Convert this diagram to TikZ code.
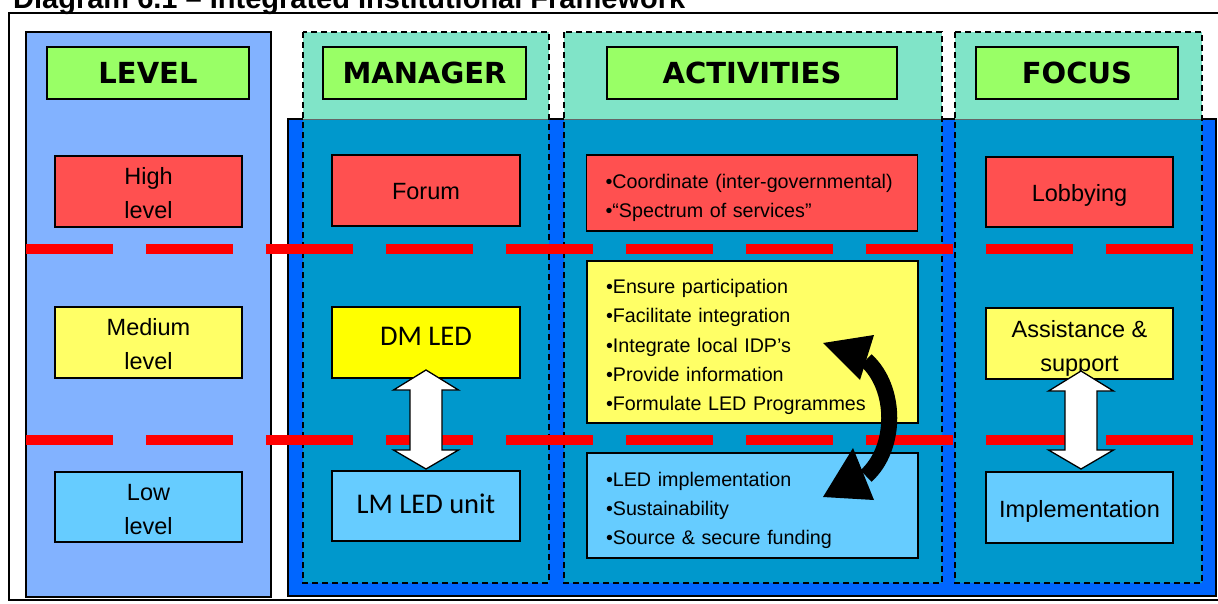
\documentclass[tikz,border=0pt]{standalone}
\usepackage{fontspec}
\setmainfont{Liberation Sans}
\newfontfamily\hdrfont{DejaVu Sans}
\newfontfamily\califont{Carlito}
\usetikzlibrary{calc}

\definecolor{lvlblue}{RGB}{130,178,255}
\definecolor{tealtop}{RGB}{128,228,200}
\definecolor{bigblue}{RGB}{0,102,255}
\definecolor{colblue}{RGB}{0,152,204}
\definecolor{hdrgreen}{RGB}{153,255,102}
\definecolor{boxred}{RGB}{255,80,80}
\definecolor{boxyellow}{RGB}{255,255,102}
\definecolor{brightyellow}{RGB}{255,255,0}
\definecolor{boxltblue}{RGB}{102,204,255}
\definecolor{dashred}{RGB}{255,0,0}

\newcommand\vdblarrow[3]{%
  \draw[dbl] (#1,#2) -- ({#1+32.5},{#2+20}) -- ({#1+16},{#2+20}) -- ({#1+16},{#3-19})
     -- ({#1+32.5},{#3-19}) -- (#1,#3) -- ({#1-32.5},{#3-19}) -- ({#1-16},{#3-19})
     -- ({#1-16},{#2+20}) -- ({#1-32.5},{#2+20}) -- cycle;}
% move text down / up by #1 inside its node, keeping the total extent
\newcommand\downtext[2]{\raisebox{0pt}[\dimexpr\height+#1\relax][\dimexpr\depth-#1\relax]{#2}}
\newcommand\uptext[2]{\raisebox{0pt}[\dimexpr\height-#1\relax][\dimexpr\depth+#1\relax]{#2}}
\newcommand\ctext[2]{\downtext{#1}{\begin{tabular}{@{}c@{}}#2\end{tabular}}}
\newcommand\ltext[2]{\downtext{#1}{\parbox{293pt}{#2}}}

\begin{document}
\begin{tikzpicture}[x=1pt,y=-1pt,
  box/.style={draw=black, line width=1.3pt, inner sep=0pt, align=center, text=black},
  hdr/.style={box, fill=hdrgreen, minimum height=52pt, font=\hdrfont\bfseries\fontsize{29}{29}\selectfont},
  lvl/.style={box, minimum width=187pt, minimum height=71pt, font=\fontsize{23.5}{34}\selectfont},
  cali/.style={box, minimum width=188pt, minimum height=71pt, font=\califont\fontsize{28.5}{30}\selectfont},
  act/.style={box, inner xsep=19pt, inner ysep=0pt, align=left, text width=293pt, font=\fontsize{19.7}{29.3}\selectfont},
  colframe/.style={draw=black, line width=1.4pt, dash pattern=on 6pt off 4pt},
  levelsep/.style={draw=dashred, line width=10pt, dash pattern=on 87pt off 33pt},
  dbl/.style={fill=white, draw=black, line width=1.3pt, line join=miter},
]
\useasboundingbox (0,0) rectangle (1218,603);
\fill[white] (0,0) rectangle (1218,603);

% title
\node[anchor=base west, inner sep=0pt, font=\bfseries\fontsize{29}{29}\selectfont] (title) at (13,8.5) {Diagram 6.1 – Integrated Institutional Framework};

% outer frame
\draw[line width=1.6pt] (9,13) rectangle (1240,600);

% level column
\draw[fill=lvlblue, line width=1.3pt] (26,32) rectangle (271,597);

% big blue area
\draw[fill=bigblue, line width=1.3pt] (288,119) rectangle (1216,596);

% dashed columns
\foreach \xa/\xb in {303/549, 564/942, 955/1202} {
  \fill[tealtop] (\xa,32) rectangle (\xb,119);
  \fill[colblue] (\xa,119) rectangle (\xb,583);
  \draw[black!60, line width=0.8pt] (\xa,119) -- (\xb,119);
  \draw[colframe] (\xa,32) rectangle (\xb,583);
}

% level separators
\draw[levelsep] (26,249) -- (1193,249);
\draw[levelsep] (26,440) -- (1193,440);

% headers
\node[hdr, minimum width=202pt] (hlevel) at (148,73) {LEVEL};
\node[hdr, minimum width=203pt] (hmanager) at (424.5,73) {MANAGER};
\node[hdr, minimum width=290pt] (hactivities) at (752,73) {ACTIVITIES};
\node[hdr, minimum width=202pt] (hfocus) at (1077,73) {FOCUS};

% level boxes
\node[lvl, fill=boxred] (high) at (148.5,191.5) {\ctext{3.5pt}{High\\level}};
\node[lvl, fill=boxyellow] (medium) at (148.5,342.5) {\ctext{3.5pt}{Medium\\level}};
\node[lvl, fill=boxltblue, minimum height=70pt] (low) at (148.5,507) {\ctext{3.5pt}{Low\\level}};

% manager boxes
\node[lvl, fill=boxred, minimum width=188pt] (forum) at (426,190.5) {\downtext{2.5pt}{Forum}};
\node[cali, fill=brightyellow] (dmled) at (426,342.5) {\uptext{6pt}{DM LED}};
\node[cali, fill=boxltblue, minimum height=70pt] (lmled) at (426,506) {\uptext{2.5pt}{LM LED unit}};

% activities boxes
\node[act, fill=boxred, minimum height=76pt] (acthigh) at (752,193) {\ltext{5pt}{•Coordinate (inter-governmental)\\•“Spectrum of services”}};
\node[act, fill=boxyellow, minimum height=162pt] (actmed) at (752.5,342) {\ltext{5pt}{•Ensure participation\\•Facilitate integration\\•Integrate local IDP’s\\•Provide information\\•Formulate LED Programmes}};
\node[act, fill=boxltblue, minimum height=105pt] (actlow) at (752.5,505.5) {\ltext{5pt}{•LED implementation\\•Sustainability\\•Source \& secure funding}};

% focus boxes
\node[lvl, fill=boxred, minimum height=70pt] (lobby) at (1079.5,192) {\downtext{3pt}{Lobbying}};
\node[lvl, fill=boxyellow] (assist) at (1079.5,343.5) {\ctext{4pt}{Assistance \&\\support}};
\node[lvl, fill=boxltblue] (impl) at (1079.5,507.5) {\downtext{4pt}{Implementation}};

% white double arrows
\vdblarrow{426}{370}{469}
\vdblarrow{1081}{371}{469}

% black curved double arrow
\draw[line width=16pt] (866,360) .. controls (897,388) and (897,448) .. (866,476);
\fill (823,343) -- (874,335) -- (860,380) -- cycle;
\fill (823,497) -- (853,448) -- (874,500) -- cycle;

\end{tikzpicture}
\end{document}
